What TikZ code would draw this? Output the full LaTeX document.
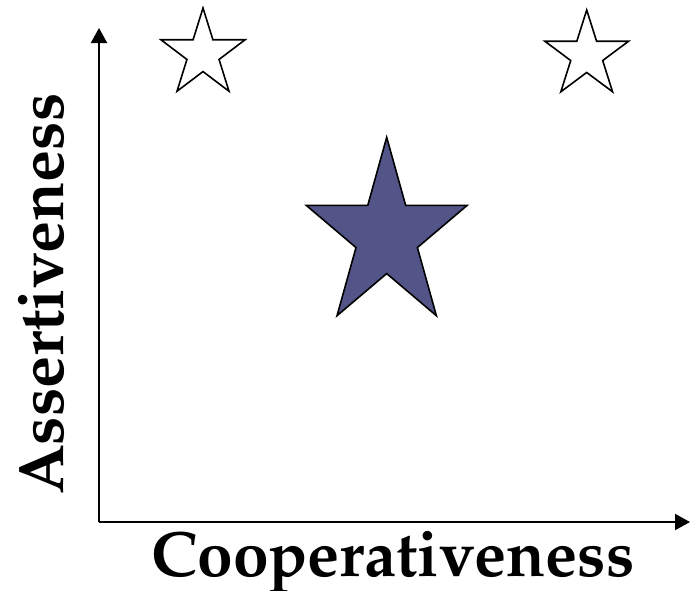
\documentclass[tikz,border=0pt]{standalone}
\usepackage[T1]{fontenc}
\usetikzlibrary{arrows.meta,calc}
\definecolor{starblue}{RGB}{83,85,137}
\tikzset{
  axis/.style={line width=2pt, -{Triangle[length=15pt,width=16pt]}},
  starline/.style={line width=1.6pt, line join=miter, draw=black},
  lbl/.style={font=\fontencoding{T1}\fontfamily{ppl}\fontseries{b}\fontsize{64}{64}\selectfont, inner sep=0pt}
}
\newcommand{\fivestar}[5]{%
  \draw[#5] ($(#1,#2)+(0,-#4)$)
    \foreach \k in {1,...,9} {
      -- ($(#1,#2)+({#3*(mod(\k,2)==0 ? 1 : 0.382)*cos(90+36*\k)},{-#4*(mod(\k,2)==0 ? 1 : 0.382)*sin(90+36*\k)})$)
    } -- cycle;}
\begin{document}
\begin{tikzpicture}[x=1pt,y=-1pt]
  \useasboundingbox (0,0) rectangle (690,590);
  \coordinate (o) at (99,522);
  \coordinate (ytop) at (99,28);
  \coordinate (xend) at (690,522);
  \draw[axis] (o) -- (ytop);
  \draw[axis] (o) -- (xend);
  \fivestar{203}{54}{44.2}{46}{starline, fill=white}
  \fivestar{586.7}{55.2}{44}{45.2}{starline, fill=white}
  \fivestar{386.7}{235.9}{84.5}{98.6}{starline, fill=starblue}
  \node[lbl, anchor=base] (xlab) at (393,576) {Cooperativeness};
  \node[lbl, anchor=base, rotate=90] (ylab) at (63,294) {Assertiveness};
\end{tikzpicture}
\end{document}
